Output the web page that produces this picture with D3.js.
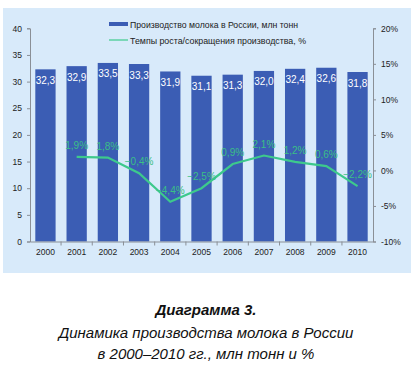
<!DOCTYPE html>
<html>
<head>
<meta charset="utf-8">
<script src="https://cdn.jsdelivr.net/npm/d3@7"></script>
<style>
  body { margin: 0; background: #fff; }
  svg { display: block; }
  text { font-family: "Liberation Sans", Arial, sans-serif; }
</style>
</head>
<body>
<svg width="413" height="368"></svg>
<script>
var years = ['2000','2001','2002','2003','2004','2005','2006','2007','2008','2009','2010'];
var milk = [32.3, 32.9, 33.5, 33.3, 31.9, 31.1, 31.3, 32.0, 32.4, 32.6, 31.8];
var growthYears = ['2001','2002','2003','2004','2005','2006','2007','2008','2009','2010'];
var growth = [1.9, 1.8, -0.4, -4.4, -2.5, 0.9, 2.1, 1.2, 0.6, -2.2];
var leftTicks = [0, 5, 10, 15, 20, 25, 30, 35, 40];
var rightTicks = [-10, -5, 0, 5, 10, 15, 20];
var legendLabels = ['Производство молока в России, млн тонн', 'Темпы роста/сокращения производства, %'];
var captionLines = ['Диаграмма 3.', 'Динамика производства молока в России', 'в 2000–2010 гг., млн тонн и %'];

var svg = d3.select('svg');
var barColor = '#3b5db4',
    lineColor = '#3dc98c',
    labelGreen = '#3abf86',
    axisColor = '#8a8f96';

var fmt = function(v) { return d3.format('.1f')(v).replace('.', ','); };

// panel
svg.append('rect')
    .attr('x', 3).attr('y', 8)
    .attr('width', 408).attr('height', 265)
    .attr('fill', '#d8eafa');

var xScale = d3.scaleBand().domain(years).range([30, 373]).paddingInner(0.35).paddingOuter(0.17);
var yLeft = d3.scaleLinear().domain([0, 40]).range([241.5, 28.3]);
var yRight = d3.scaleLinear().domain([-10, 20]).range([241.5, 28.3]);

// bars
svg.selectAll('.bar')
    .data(milk)
    .enter().append('rect')
    .attr('class', 'bar')
    .attr('x', function(d, i) { return xScale(years[i]); })
    .attr('y', function(d) { return yLeft(d); })
    .attr('width', xScale.bandwidth())
    .attr('height', function(d) { return yLeft(0) - yLeft(d); })
    .attr('fill', barColor);

svg.selectAll('.barLabel')
    .data(milk)
    .enter().append('text')
    .attr('class', 'barLabel')
    .attr('x', function(d, i) { return xScale(years[i]) + xScale.bandwidth() / 2; })
    .attr('y', function(d) { return yLeft(d) + 14.5; })
    .attr('text-anchor', 'middle')
    .attr('font-size', 10)
    .attr('fill', '#fff')
    .text(function(d) { return fmt(d); });

// axes
var leftAxis = svg.append('g')
    .attr('transform', 'translate(30,0)')
    .call(d3.axisLeft(yLeft).tickValues(leftTicks).tickSize(3).tickPadding(5));
var rightAxis = svg.append('g')
    .attr('transform', 'translate(373,0)')
    .call(d3.axisRight(yRight).tickValues(rightTicks).tickSize(3).tickPadding(5)
        .tickFormat(function(d) { return d + '%'; }));
var xAxis = svg.append('g')
    .attr('transform', 'translate(0,241.5)')
    .call(d3.axisBottom(xScale).tickSize(0).tickPadding(7));

[leftAxis, rightAxis, xAxis].forEach(function(g) {
    g.select('.domain').attr('stroke', axisColor);
    g.selectAll('.tick line').attr('stroke', axisColor);
    g.selectAll('text').attr('font-size', 8.5).attr('fill', '#222')
        .attr('font-family', '"Liberation Sans", Arial, sans-serif');
});

// x tick marks at category boundaries
var step = xScale.step();
xAxis.selectAll('.sep')
    .data(years.slice(1))
    .enter().append('line')
    .attr('x1', function(d) { return xScale(d) - (step - xScale.bandwidth()) / 2; })
    .attr('x2', function(d) { return xScale(d) - (step - xScale.bandwidth()) / 2; })
    .attr('y1', 0).attr('y2', 4)
    .attr('stroke', axisColor);

// growth line
var line = d3.line()
    .x(function(d, i) { return xScale(growthYears[i]) + xScale.bandwidth() / 2; })
    .y(function(d) { return yRight(d); });

svg.append('path')
    .datum(growth)
    .attr('d', line)
    .attr('fill', 'none')
    .attr('stroke', lineColor)
    .attr('stroke-width', 2.2);

svg.selectAll('.growthLabel')
    .data(growth)
    .enter().append('text')
    .attr('class', 'growthLabel')
    .attr('x', function(d, i) { return xScale(growthYears[i]) + xScale.bandwidth() / 2; })
    .attr('y', function(d) { return yRight(d) - 8; })
    .attr('text-anchor', 'middle')
    .attr('font-size', 10)
    .attr('fill', labelGreen)
    .text(function(d) { return fmt(d) + '%'; });

// legend
var legend = svg.append('g');
legend.append('rect')
    .attr('x', 109).attr('y', 22).attr('width', 19).attr('height', 4)
    .attr('fill', barColor);
legend.append('line')
    .attr('x1', 109).attr('x2', 128).attr('y1', 40).attr('y2', 40)
    .attr('stroke', lineColor).attr('stroke-width', 1.2);
legend.selectAll('text')
    .data(legendLabels)
    .enter().append('text')
    .attr('x', 130)
    .attr('y', function(d, i) { return 27.5 + i * 16; })
    .attr('font-size', 9.5)
    .attr('fill', '#222')
    .attr('textLength', function(d, i) { return i == 0 ? 168 : 176; })
    .attr('lengthAdjust', 'spacingAndGlyphs')
    .text(function(d) { return d; });

// caption
svg.selectAll('.caption')
    .data(captionLines)
    .enter().append('text')
    .attr('class', 'caption')
    .attr('x', 206)
    .attr('y', function(d, i) { return i == 0 ? 315 : 317 + i * 21; })
    .attr('text-anchor', 'middle')
    .attr('font-size', 15)
    .attr('font-style', 'italic')
    .attr('font-weight', function(d, i) { return i == 0 ? 'bold' : 'normal'; })
    .attr('fill', '#111')
    .text(function(d) { return d; });
</script>
</body>
</html>
